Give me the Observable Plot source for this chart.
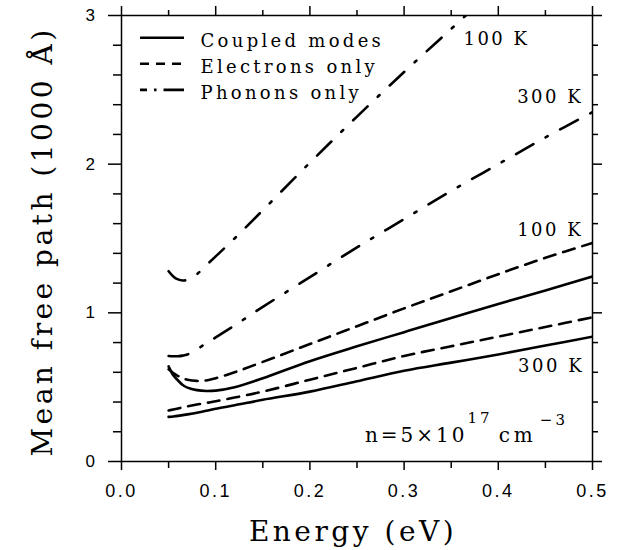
<!DOCTYPE html>
<html><head><meta charset="utf-8">
<script src="https://cdn.jsdelivr.net/npm/d3@7"></script>
<script src="https://cdn.jsdelivr.net/npm/@observablehq/plot@0.6"></script>
<style>body{margin:0;background:#fff;} #chart{width:625px;height:550px;}</style>
</head><body><div id="chart"></div>
<script>
// ---- data ----
const energy      = [0.05, 0.055, 0.06, 0.065, 0.07, 0.08, 0.09, 0.10, 0.12, 0.15, 0.20, 0.25, 0.30, 0.35, 0.40, 0.45, 0.50];
const coupled100  = [0.64, 0.58, 0.545, 0.515, 0.497, 0.48, 0.474, 0.477, 0.50, 0.56, 0.675, 0.775, 0.87, 0.965, 1.06, 1.15, 1.245];
const electrons100= [0.62, 0.595, 0.575, 0.56, 0.55, 0.542, 0.545, 0.56, 0.60, 0.67, 0.79, 0.91, 1.03, 1.145, 1.26, 1.37, 1.47];
const phonons100  = [1.28, 1.245, 1.225, 1.218, 1.222, 1.26, 1.32, 1.38, 1.50, 1.69, 2.01, 2.32, 2.62, 2.91, 3.20, null, null];
const coupled300  = [0.30, 0.303, 0.307, 0.312, 0.317, 0.328, 0.341, 0.355, 0.378, 0.415, 0.47, 0.54, 0.61, 0.665, 0.72, 0.78, 0.84];
const electrons300= [0.343, 0.35, 0.357, 0.364, 0.371, 0.383, 0.394, 0.405, 0.43, 0.47, 0.55, 0.63, 0.71, 0.775, 0.84, 0.905, 0.97];
const phonons300  = [0.71, 0.708, 0.708, 0.712, 0.72, 0.755, 0.795, 0.835, 0.915, 1.04, 1.24, 1.44, 1.63, 1.82, 2.00, 2.18, 2.35];

const xMajor = [0, 0.1, 0.2, 0.3, 0.4, 0.5];
const xMinor = [0.05, 0.15, 0.25, 0.35, 0.45];
const yMajor = [0, 1, 2, 3];
const yMinor = [0.2,0.4,0.6,0.8,1.2,1.4,1.6,1.8,2.2,2.4,2.6,2.8];

const legendLabels = ["Coupled modes", "Electrons only", "Phonons only"];
const curveLabels  = ["100 K", "300 K", "100 K", "300 K"];
const curveLabelE  = [0.363, 0.420, 0.420, 0.421];
const curveLabelV  = [2.80, 2.414, 1.52, 0.60];
const xTitle = "Energy (eV)";
const yTitle = "Mean free path (1000 Å)";

// ---- styles ----
const serif = "'DejaVu Serif', serif";
const sans = "'Liberation Sans', Arial, sans-serif";
const lw = 2.6;
const solid = {stroke: "black", strokeWidth: lw};
const dashed = {stroke: "black", strokeWidth: lw, strokeDasharray: "12,8"};
const dashdot = {stroke: "black", strokeWidth: lw, strokeDasharray: "20,14,2.5,14"};
const dashdotLegend = {stroke: "black", strokeWidth: lw, strokeDasharray: "7,7,2.5,7,22"};
const rows = vals => energy.map((e, i) => ({e, v: vals[i]}));

const legY = i => 2.85 - i * 0.175;
const legStyles = [solid, {...dashed, strokeDasharray: "9,7"}, dashdotLegend];

const plot = Plot.plot({
  width: 625, height: 550,
  marginLeft: 121, marginRight: 33, marginTop: 15, marginBottom: 89,
  x: {domain: [0, 0.5]},
  y: {domain: [0, 3]},
  style: {background: "white", color: "black"},
  marks: [
    Plot.frame({stroke: "black", strokeWidth: 1.5}),
    // bottom axis
    Plot.axisX({anchor: "bottom", ticks: xMajor, tickSize: 9, tickPadding: 14, tickFormat: d3.format(".1f"), label: null, fontSize: 18, fontFamily: sans, strokeWidth: 1.5}),
    Plot.axisX({anchor: "bottom", ticks: xMinor, tickSize: 7, tickFormat: () => "", label: null, strokeWidth: 1.5}),
    // top axis
    Plot.axisX({anchor: "top", ticks: xMajor, tickSize: 10, tickFormat: () => "", label: null, strokeWidth: 1.5}),
    Plot.axisX({anchor: "top", ticks: xMinor, tickSize: 6, tickFormat: () => "", label: null, strokeWidth: 1.5}),
    // left axis
    Plot.axisY({anchor: "left", ticks: yMajor, tickSize: 13, tickPadding: 11, tickFormat: d3.format("d"), label: null, fontSize: 17, fontFamily: sans, strokeWidth: 1.5}),
    Plot.axisY({anchor: "left", ticks: yMinor, tickSize: 8, tickFormat: () => "", label: null, strokeWidth: 1.5}),
    // right axis
    Plot.axisY({anchor: "right", ticks: yMajor, tickSize: 9, tickFormat: () => "", label: null, strokeWidth: 1.5}),
    Plot.axisY({anchor: "right", ticks: yMinor, tickSize: 5, tickFormat: () => "", label: null, strokeWidth: 1.5}),
    // curves
    Plot.line(rows(phonons100), {x: "e", y: "v", ...dashdot, curve: "catmull-rom", clip: true}),
    Plot.line(rows(phonons300), {x: "e", y: "v", ...dashdot, curve: "catmull-rom", clip: true}),
    Plot.line(rows(electrons100), {x: "e", y: "v", ...dashed, curve: "catmull-rom", clip: true}),
    Plot.line(rows(electrons300), {x: "e", y: "v", ...dashed, curve: "catmull-rom", clip: true}),
    Plot.line(rows(coupled100), {x: "e", y: "v", ...solid, curve: "catmull-rom", clip: true}),
    Plot.line(rows(coupled300), {x: "e", y: "v", ...solid, curve: "catmull-rom", clip: true}),
    // legend
    ...legendLabels.map((d, i) => Plot.ruleY([legY(i)], {x1: 0.0202, x2: 0.0669, ...legStyles[i]})),
    Plot.text(legendLabels, {x: 0.0839, y: (d, i) => legY(i) - 0.06, text: d => d, textAnchor: "start", lineAnchor: "bottom", fontFamily: serif, fontSize: 18}),
    // curve labels
    Plot.text(curveLabels, {x: (d, i) => curveLabelE[i], y: (d, i) => curveLabelV[i], text: d => d, textAnchor: "start", lineAnchor: "bottom", fontFamily: serif, fontSize: 18}),
    // axis titles
    Plot.text([xTitle], {frameAnchor: "bottom", dy: 79, dx: -4, text: d => d, textAnchor: "middle", lineAnchor: "bottom", fontFamily: serif, fontSize: 28}),
    Plot.text([yTitle], {frameAnchor: "left", dx: -70, dy: 3, rotate: -90, text: d => d, textAnchor: "middle", lineAnchor: "bottom", fontFamily: serif, fontSize: 28})
  ]
});

const svg = d3.select(plot);
svg.selectAll("text").style("letter-spacing", "2.5px");
svg.selectAll("text").filter(function(){ return legendLabels.includes(this.textContent); }).style("letter-spacing", "3.3px");
svg.selectAll("text").filter(function(){ return this.textContent === xTitle || this.textContent === yTitle; }).style("letter-spacing", "3.5px");

// density annotation with superscripts
const xs = plot.scale("x"), ys = plot.scale("y");
const t = svg.append("text")
  .attr("x", xs.apply(0.259)).attr("y", ys.apply(0.128))
  .attr("text-anchor", "start")
  .attr("font-family", serif).attr("font-size", 20).attr("fill", "black")
  .style("letter-spacing", "3px");
t.append("tspan").text("n=5×10");
t.append("tspan").attr("dy", -19).attr("font-size", 15).text("17");
t.append("tspan").attr("dy", 19).attr("dx", 6).style("letter-spacing", "4px").text("cm");
t.append("tspan").attr("dy", -17).attr("dx", 3).attr("font-size", 15).text("−3");

document.getElementById("chart").append(plot);
</script>
</body></html>
